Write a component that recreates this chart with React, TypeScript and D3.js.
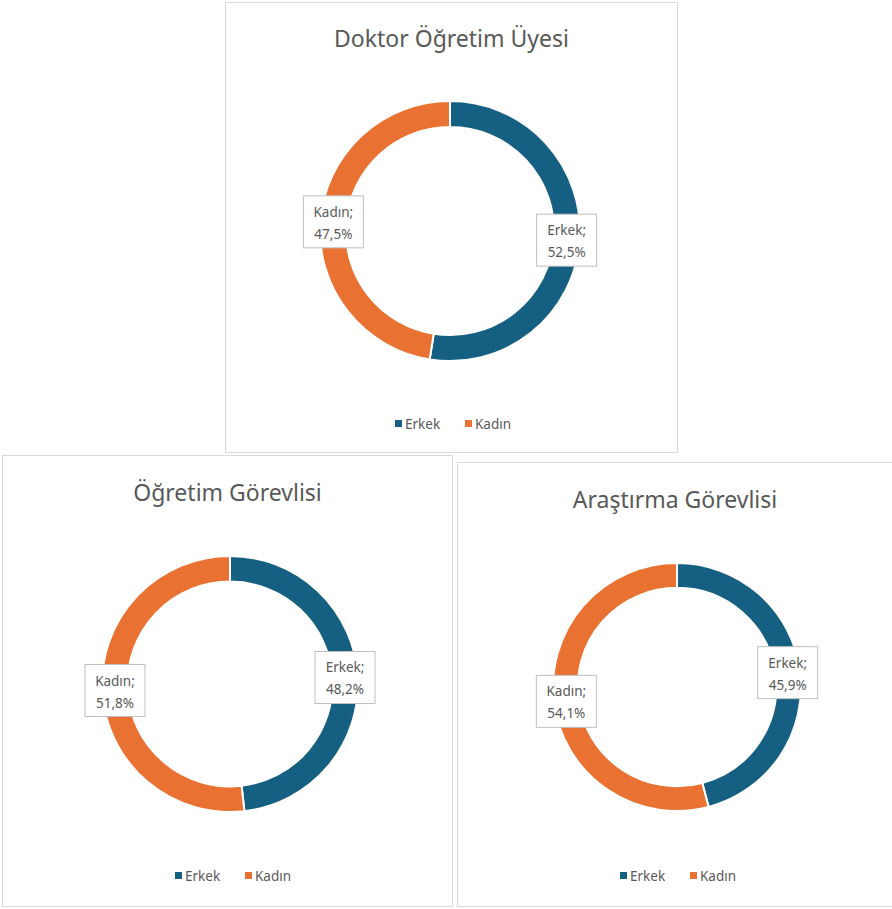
import React from "react";
import { arc, pie, PieArcDatum } from "d3";

const categories = ["Erkek", "Kadın"];
const colors = ["#156082", "#E97132"];
const titles = ["Doktor Öğretim Üyesi", "Öğretim Görevlisi", "Araştırma Görevlisi"];
const doktorValues = [52.5, 47.5];
const ogretimValues = [48.2, 51.8];
const arastirmaValues = [45.9, 54.1];

const FONT = "'Noto Sans', 'Open Sans', sans-serif";
const GREY = "#595959";

type PanelProps = {
  x: number;
  y: number;
  w: number;
  h: number;
  title: string;
  values: number[];
  cx: number;
  cy: number;
  r: number;
  titleY: number;
  legendY: number;
  legendX: number;
};

const fmt = (v: number) => v.toFixed(1).replace(".", ",") + "%";

const Panel = ({ x, y, w, h, title, values, cx, cy, r, titleY, legendY, legendX }: PanelProps) => {
  const pieGen = pie<number>().sort(null).value(d => d);
  const arcs = pieGen(values);
  const ring = arc<PieArcDatum<number>>().innerRadius(r * 0.8).outerRadius(r);
  const mid = arc<PieArcDatum<number>>().innerRadius(r * 0.9).outerRadius(r * 0.9);

  return (
    <g transform={`translate(${x},${y})`}>
      <rect x={0.5} y={0.5} width={w - 1} height={h - 1} fill="#fff" stroke="#d9d9d9" />
      <text x={w / 2} y={titleY} textAnchor="middle" fontFamily={FONT} fontSize={23} fill={GREY}>
        {title}
      </text>
      <g transform={`translate(${cx},${cy})`}>
        {arcs.map((a, i) => (
          <path key={i} d={ring(a) || ""} fill={colors[i]} stroke="#fff" strokeWidth={2} />
        ))}
        {arcs.map((a, i) => {
          const [lx, ly] = mid.centroid(a);
          const bw = 60;
          const bh = 52;
          return (
            <g key={"l" + i} transform={`translate(${lx},${ly})`}>
              <rect x={-bw / 2} y={-bh / 2} width={bw} height={bh} fill="#fff" stroke="#bfbfbf" />
              <text textAnchor="middle" fontFamily={FONT} fontSize={13.5} fill={GREY}>
                <tspan x={0} y={-5}>{categories[i] + ";"}</tspan>
                <tspan x={0} y={17}>{fmt(values[i])}</tspan>
              </text>
            </g>
          );
        })}
      </g>
      <g transform={`translate(${legendX},${legendY})`}>
        {categories.map((c, i) => (
          <g key={c} transform={`translate(${i * 70},0)`}>
            <rect x={-30} y={-4} width={7} height={7} fill={colors[i]} />
            <text x={-20} y={4.5} fontFamily={FONT} fontSize={13.5} fill={GREY}>
              {c}
            </text>
          </g>
        ))}
      </g>
    </g>
  );
};

export default function App() {
  return (
    <svg
      width={892}
      height={909}
      style={{ position: "absolute", left: 0, top: 0, background: "#fff" }}
    >
      <Panel x={225} y={2} w={453} h={451} title={titles[0]} values={doktorValues}
        cx={225} cy={229} r={130} titleY={45} legendY={422} legendX={200} />
      <Panel x={2} y={455} w={451} h={452} title={titles[1]} values={ogretimValues}
        cx={228} cy={229} r={128} titleY={46} legendY={421} legendX={203} />
      <Panel x={457} y={462} w={436} h={445} title={titles[2]} values={arastirmaValues}
        cx={220} cy={225} r={124} titleY={46} legendY={414} legendX={193} />
    </svg>
  );
}
